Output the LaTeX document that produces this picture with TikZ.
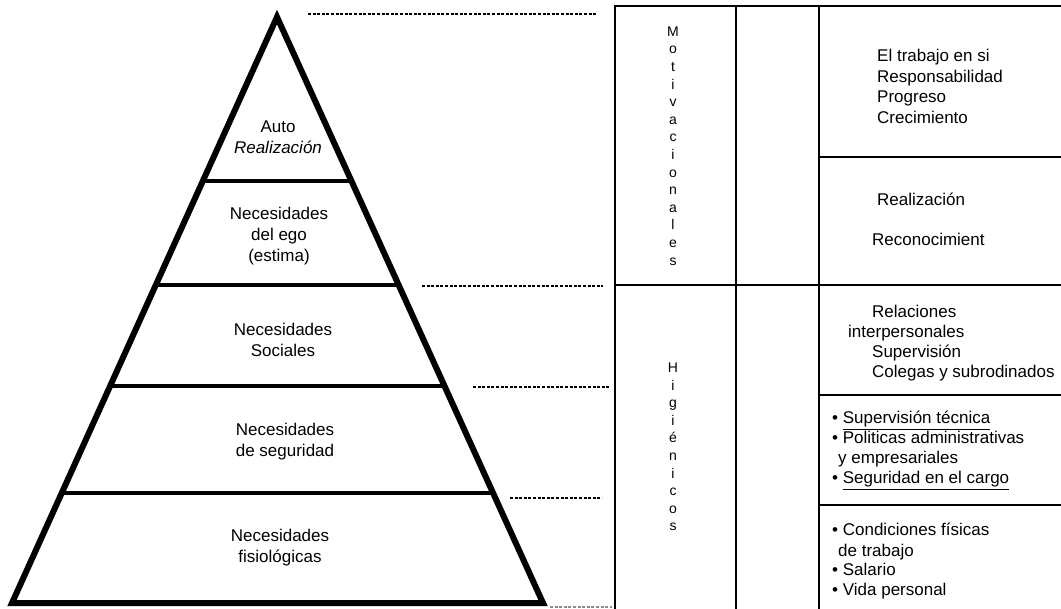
\documentclass[tikz,border=0pt]{standalone}
\usepackage{fontspec}
\setmainfont{Liberation Sans}
\usetikzlibrary{calc}
\begin{document}
\begin{tikzpicture}[x=1pt,y=-1pt,
  pyr/.style={line width=6pt, line join=miter},
  tier/.style={line width=4.2pt},
  grid/.style={line width=1.7pt},
  guide/.style={line width=1.2pt, dash pattern=on 3pt off 1.6pt},
  lvl/.style={align=center, font=\fontsize{17}{21}\selectfont, inner sep=0pt},
  item/.style={anchor=base west, font=\fontsize{17}{21}\selectfont, inner sep=0pt},
  vert/.style={align=center, font=\fontsize{14}{17.6}\selectfont, inner sep=0pt},
]
\useasboundingbox (0,0) rectangle (1061,609);

% ---- pyramid ----
\coordinate (apex) at (277,17);
\coordinate (bl) at (12,603);
\coordinate (br) at (543,603);
\draw[pyr] (apex) -- (bl) -- (br) -- cycle;
\foreach \t/\n in {0.280/a,0.457/b,0.630/c,0.812/d}{
  \coordinate (L\n) at ($(apex)!\t!(bl)$);
  \coordinate (R\n) at ($(apex)!\t!(br)$);
  \draw[tier] (L\n) -- (R\n);
}

\node[lvl] (auto) at (278,137) {Auto\\\textit{Realización}};
\node[lvl] (ego)  at (279,236) {Necesidades\\del ego\\(estima)};
\node[lvl] (soc)  at (283,340) {Necesidades\\Sociales};
\node[lvl] (seg)  at (285,442) {Necesidades\\de seguridad};
\node[lvl] (fis)  at (280,548) {Necesidades\\fisiológicas};

% ---- dashed guides from the pyramid to the table ----
\coordinate (g1a) at (308,14);  \coordinate (g1b) at (597,14);
\coordinate (g2a) at (422,286); \coordinate (g2b) at (603,286);
\coordinate (g3a) at (473,387); \coordinate (g3b) at (610,387);
\coordinate (g4a) at (510,498); \coordinate (g4b) at (602,498);
\coordinate (g5a) at (550,607); \coordinate (g5b) at (612,607);
\draw[guide] (g1a) -- (g1b);
\draw[guide] (g2a) -- (g2b);
\draw[guide] (g3a) -- (g3b);
\draw[guide] (g4a) -- (g4b);
\draw[guide, black!45] (g5a) -- (g5b);

% ---- table ----
\draw[grid] (615,609) -- (615,6) -- (1061,6);
\draw[grid] (736,6) -- (736,609);
\draw[grid] (819,6) -- (819,609);
\draw[grid] (615,285) -- (1061,285);
\draw[grid] (819,157) -- (1061,157);
\draw[grid] (819,395) -- (1061,395);
\draw[grid] (819,505) -- (1061,505);

\node[vert] (mot) at (673,146) {M\\o\\t\\i\\v\\a\\c\\i\\o\\n\\a\\l\\e\\s};
\node[vert] (hig) at (673,447) {H\\i\\g\\i\\é\\n\\i\\c\\o\\s};

% motivational factors
\node[item] (m1) at (877,62)  {El trabajo en si};
\node[item] (m2) at (877,83)  {Responsabilidad};
\node[item] (m3) at (877,103) {Progreso};
\node[item] (m4) at (877,124) {Crecimiento};
\node[item] (m5) at (877,206) {Realización};
\node[item] (m6) at (872,246) {Reconocimient};

% hygiene factors
\node[item] (h1) at (872,318) {Relaciones};
\node[item] (h2) at (848,338) {interpersonales};
\node[item] (h3) at (872,358) {Supervisión};
\node[item] (h4) at (872,378) {Colegas y subrodinados};
\node[item] (h5) at (832,424) {• \underline{Supervisión técnica}};
\node[item] (h6) at (832,444) {• Politicas administrativas};
\node[item] (h7) at (838,464) {y empresariales};
\node[item] (h8) at (832,484) {• \underline{Seguridad en el cargo}};
\node[item] (h9)  at (832,536) {• Condiciones físicas};
\node[item] (h10) at (838,556) {de trabajo};
\node[item] (h11) at (832,576) {• Salario};
\node[item] (h12) at (832,595) {• Vida personal};
\end{tikzpicture}
\end{document}
